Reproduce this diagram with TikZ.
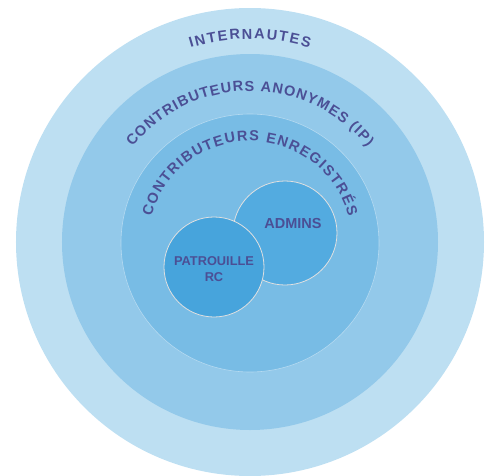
\documentclass[tikz,border=0pt]{standalone}
\usepackage{fontspec}
\newfontfamily\labelfont{Liberation Sans}
\usetikzlibrary{decorations.text}

\definecolor{ringout}{HTML}{BDDFF2}
\definecolor{ringanon}{HTML}{93C9EA}
\definecolor{ringreg}{HTML}{78BCE5}
\definecolor{bubadmin}{HTML}{53ABE0}
\definecolor{bubrc}{HTML}{47A4DC}
\definecolor{labelblue}{HTML}{4B4F95}
\newcommand{\arcfont}{\labelfont\bfseries\fontsize{14.5pt}{15pt}\selectfont}

\begin{document}
\begin{tikzpicture}
    \tikzstyle{ring} = [draw=none, circle, inner sep=0pt]
    \tikzstyle{bubble} = [draw=black!12, line width=0.8pt, circle, inner sep=0pt]
    \tikzstyle{arclabel} = [decorate, font=\arcfont, decoration={text along path, text color=labelblue, text align={fit to path}}]
    \tikzstyle{bubbletext} = [font=\labelfont\bfseries\fontsize{14.5pt}{16pt}\selectfont, text=labelblue, align=center]

    \useasboundingbox (-250pt,-233pt) rectangle (240pt,242pt);

    \node[ring, fill=ringout, minimum size=468pt] (internautes) at (0,0) {};
    \node[ring, fill=ringanon, minimum size=376pt] (anonymes) at (internautes.center) {};
    \node[ring, fill=ringreg, draw=white!45!ringreg, line width=0.6pt, minimum size=258pt] (enregistres) at ([yshift=-1pt]internautes.center) {};
    \node[bubble, fill=bubadmin, minimum size=104pt] (admins) at ([shift={(35pt,10pt)}]enregistres.center) {};
    \node[bubble, fill=bubrc, minimum size=100pt] (patrouille) at ([shift={(-36pt,-24pt)}]enregistres.center) {};

    \node[bubbletext] (adminslabel) at ([shift={(8pt,9pt)}]admins.center) {ADMINS};
    \node[bubbletext, font=\labelfont\bfseries\fontsize{12.8pt}{16pt}\selectfont] (patrouillelabel) at ([yshift=-2pt]patrouille.center) {PATROUILLE\\RC};

    % ring titles
    \path[arclabel, decoration={text={|\arcfont|INTERNAUTES}}]
        (internautes.center) ++(107:203pt) arc[start angle=107, end angle=73, radius=203pt];
    \path[arclabel, decoration={text={|\arcfont|CONTRIBUTEURS ANONYMES (IP)}}]
        (anonymes.center) ++(141:151pt) arc[start angle=141, end angle=39, radius=151pt];
    \path[arclabel, decoration={text={|\arcfont|CONTRIBUTEURS ENREGISTRÉS}}]
        (enregistres.center) ++(165:102pt) arc[start angle=165, end angle=15, radius=102pt];
\end{tikzpicture}
\end{document}
